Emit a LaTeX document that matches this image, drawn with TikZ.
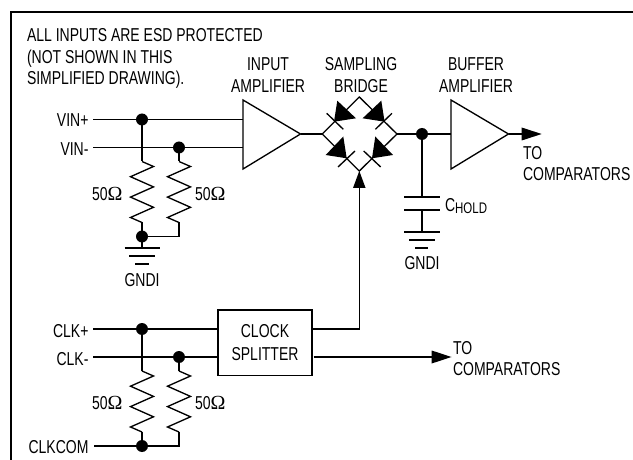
\documentclass[tikz,border=0pt]{standalone}
\usepackage{fontspec}
\setmainfont[FakeStretch=0.75]{Liberation Sans}
\newfontfamily\omfont{Liberation Serif}
\usetikzlibrary{arrows.meta,calc}
\tikzset{
  wire/.style={line width=1pt,black,line cap=butt,line join=miter},
  junction/.style={circle,fill=black,draw=none,inner sep=0pt,minimum size=9pt},
  lbl/.style={inner sep=0pt,outer sep=0pt,font=\fontsize{14}{16.3}\selectfont,align=center},
  lblr/.style={lbl,anchor=east},
  lbll/.style={lbl,anchor=west,align=left},
  ampbody/.style={draw=black,line width=1pt,fill=white,line join=miter},
  gnd/.style={line width=1pt},
  blockbox/.style={draw=black,line width=1pt,minimum width=70.5pt,minimum height=49pt,inner sep=0pt,align=center,font=\fontsize{14}{16.9}\selectfont},
}
\newcommand{\ohm}{{\omfont\fontsize{15}{16}\selectfont\symbol{"03A9}}}
\newcommand{\zigzag}[2]{% x, ytop: resistor spanning 61 px
  \draw[wire] (#1,#2) -- ++(11.5,5) -- ++(-23,10.2) -- ++(23,10.2) -- ++(-23,10.2) -- ++(23,10.2) -- ++(-23,10.2) -- ++(11.5,5);
}
\begin{document}
\begin{tikzpicture}[x=0.75pt,y=-0.75pt]
\useasboundingbox (0,0) rectangle (633,460);
\draw[line width=1.5pt] (10.5,460) -- (10.5,12.5) -- (633,12.5);
% header
\node[lbll] (note) at (27,58.5) {ALL INPUTS ARE ESD PROTECTED\\(NOT SHOWN IN THIS\\SIMPLIFIED DRAWING).};
\node[lbl] (t1) at (268,75) {INPUT\\AMPLIFIER};
\node[lbl] (t2) at (361,75) {SAMPLING\\BRIDGE};
\node[lbl] (t3) at (476,75) {BUFFER\\AMPLIFIER};
% input labels
\node[lblr] (vinp) at (88.5,120.5) {VIN+};
\node[lblr] (vinm) at (88.5,149) {VIN-};
\coordinate (vinps) at (93,119.5);
\coordinate (vinms) at (93,147.5);
% amps
\coordinate (a1t) at (243,100); \coordinate (a1b) at (243,169); \coordinate (a1o) at (300.5,134);
\coordinate (a2t) at (451,100); \coordinate (a2b) at (451,169); \coordinate (a2o) at (508.5,134);
\coordinate (ja) at (142,119.5); \coordinate (jb) at (179,147.5);
\coordinate (jc) at (142,236.5); \coordinate (jd) at (179,236.5);
\draw[wire] (vinps) -- (ja) -- (243,119.5);
\draw[wire] (vinms) -- (jb) -- (243,147.5);
\draw[ampbody] (a1t) -- (a1o) -- (a1b) -- cycle;
\draw[ampbody] (a2t) -- (a2o) -- (a2b) -- cycle;
% resistors input
\draw[wire] (ja) -- (142,161.5);
\zigzag{142}{161.5}
\draw[wire] (142,222.5) -- (jc);
\draw[wire] (jb) -- (179,161.5);
\zigzag{179}{161.5}
\draw[wire] (179,222.5) -- (jd) -- (jc);
\node[junction] (n1) at (ja) {}; \node[junction] (n2) at (jb) {}; \node[junction] (n3) at (jc) {};
\node[lblr] (r1) at (122.5,194) {50\ohm};
\node[lbll] (r2) at (195,194) {50\ohm};
% ground left
\draw[wire] (jc) -- (142,248);
\draw[gnd] (124.5,248) -- (159.5,248) (129,256) -- (155,256) (135,264) -- (148.5,264);
\node[lbl] (g1) at (142,280) {GNDI};
% bridge
\coordinate (bl) at (322.3,134); \coordinate (bt) at (359.3,97); \coordinate (br) at (397,134); \coordinate (bb) at (359.3,171);
\draw[wire] (a1o) -- (bl);
\draw[wire] (bl) -- (bt) -- (br) -- (bb) -- cycle;
\fill (337.3,100.7) -- (356,118.3) -- (334,121.7) -- cycle;
\fill (381.3,100.7) -- (362.6,118.3) -- (384.6,121.7) -- cycle;
\fill (325.7,155) -- (343.3,136.5) -- (346.7,158.3) -- cycle;
\fill (393,155) -- (375.3,136.5) -- (372,158.3) -- cycle;
\draw[wire] (326.7,113.3) -- (343.3,129.3) (392,113.3) -- (375.4,129.3)
  (338,167) -- (355,151) (380.7,167) -- (363.7,151);
% output side
\coordinate (je) at (422,134);
\draw[wire] (br) -- (je) -- (a2t |- je);
\node[junction] (n4) at (je) {};
\draw[wire] (a2o) -- (525,134);
\fill (521.7,127.5) -- (541.7,134) -- (521.7,140.5) -- cycle;
\node[lbll] (o1) at (523,163.5) {TO\\COMPARATORS};
% hold cap
\draw[wire] (je) -- (422,197);
\draw[gnd] (404,197) -- (439.5,197) (404,210) -- (439.5,210);
\draw[wire] (422,210) -- (422,232);
\draw[gnd] (404,232) -- (439.5,232) (409,240) -- (435,240) (415,248) -- (428,248);
\node[lbl,anchor=base west] (chold) at (445,211) {C{\fontsize{11.5}{12}\selectfont\raisebox{-2pt}{HOLD}}};
\node[lbl] (g2) at (422,263.5) {GNDI};
% clock
\node[blockbox] (split) at (265,342.75) {CLOCK\\SPLITTER};
\node[lblr] (clkp) at (88.5,331) {CLK+};
\node[lblr] (clkm) at (88.5,359) {CLK-};
\node[lblr] (clkc) at (88.5,447.5) {CLKCOM};
\coordinate (jf) at (142,329); \coordinate (jg) at (179,357);
\coordinate (jh) at (142,446); \coordinate (ji) at (179,446);
\draw[wire] (93,329) -- (jf) -- (218,329);
\draw[wire] (93,357) -- (jg) -- (218,357);
\draw[wire] (94,446) -- (jh) -- (ji) -- (179,432);
\draw[wire] (jf) -- (142,371);
\zigzag{142}{371}
\draw[wire] (142,432) -- (jh);
\draw[wire] (jg) -- (179,371);
\zigzag{179}{371}
\node[junction] (n5) at (jf) {}; \node[junction] (n6) at (jg) {}; \node[junction] (n7) at (jh) {};
\node[lblr] (r3) at (122.5,403) {50\ohm};
\node[lbll] (r4) at (195,403) {50\ohm};
\draw[wire] (312,329) -- (359.3,329) -- (359.3,185);
\fill (353,188) -- (359.3,171) -- (365.6,188) -- cycle;
\draw[wire] (313.5,357) -- (435,357);
\fill (431.7,350.5) -- (451.5,357) -- (431.7,363.5) -- cycle;
\node[lbll] (o2) at (453,358.5) {TO\\COMPARATORS};
\end{tikzpicture}
\end{document}
